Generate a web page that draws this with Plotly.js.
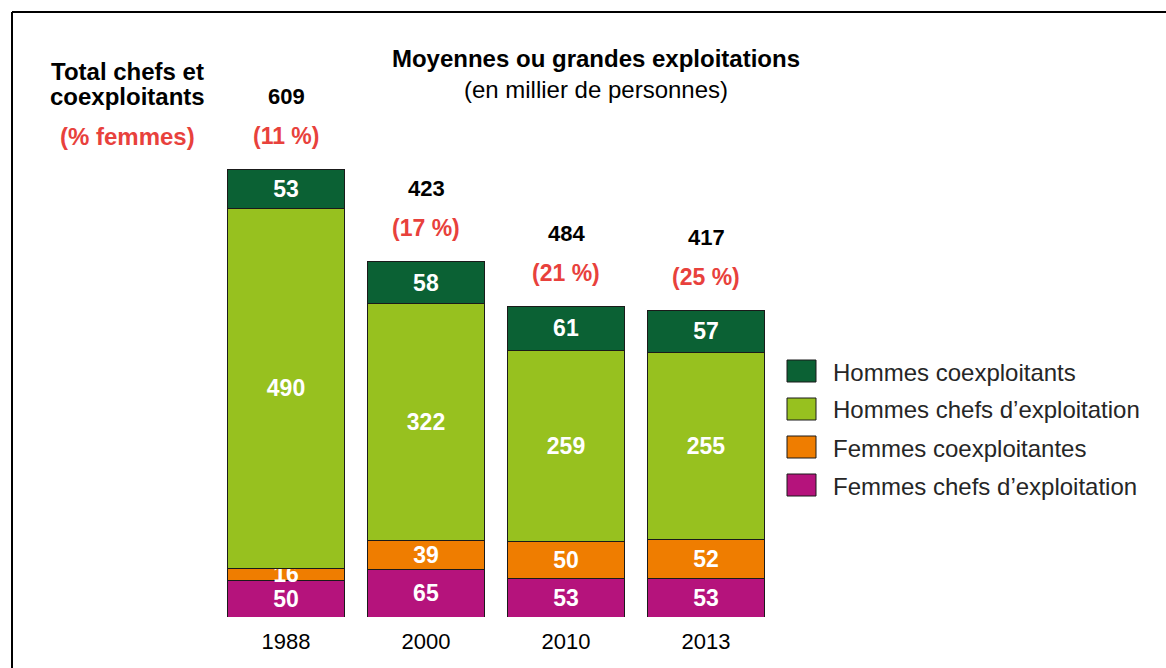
<!DOCTYPE html>
<html>
<head>
<meta charset="utf-8">
<script src="https://cdn.plot.ly/plotly-3.0.1.min.js"></script>
<style>html,body{margin:0;padding:0;background:#fff;}#chart{width:1166px;height:668px;}</style>
</head>
<body>
<div id="chart"></div>
<script>
// ---- data ----
const years = ["1988", "2000", "2010", "2013"];
const femmesChefs = [50, 65, 53, 53];
const femmesCoexploitantes = [16, 39, 50, 52];
const hommesChefs = [490, 322, 259, 255];
const hommesCoexploitants = [53, 58, 61, 57];
const totalLabels = ["609", "423", "484", "417"];
const pctFemmes = ["(11 %)", "(17 %)", "(21 %)", "(25 %)"];

const seriesNames = ["Femmes chefs d’exploitation", "Femmes coexploitantes", "Hommes chefs d’exploitation", "Hommes coexploitants"];
const seriesValues = [femmesChefs, femmesCoexploitantes, hommesChefs, hommesCoexploitants];
const seriesColors = ["#b5137c", "#ef7d00", "#97c11f", "#0b6134"];

const FONT = "Liberation Sans, Arial, sans-serif";
const RED = "#e8413c";
const OUTLINE = "#1a1a1a";

const traces = seriesNames.map((name, i) => ({
  type: "bar",
  name: name,
  x: years.map((_, j) => j),
  y: seriesValues[i],
  marker: {color: seriesColors[i], line: {color: OUTLINE, width: 1}},
  text: seriesValues[i].map(String),
  textposition: "inside",
  insidetextanchor: "middle",
  constraintext: "none",
  textangle: 0,
  textfont: {family: FONT, size: 23, color: "#ffffff", weight: "bold"},
  width: 0.83,
  showlegend: false,
  hoverinfo: "skip"
}));

// stack tops for annotation placement
const tops = years.map((_, j) => seriesValues.reduce((s, arr) => s + arr[j], 0));

// pixel geometry helpers (layout)
const W = 1166, H = 668;
const mL = 216, mR = 390, mT = 20, mB = 51;
const plotW = W - mL - mR, plotH = H - mT - mB;
const px2paperX = px => (px - mL) / plotW;
const py2paperY = py => (H - mB - py) / plotH;
const unitPx = 0.7351;
const yMax = plotH / unitPx;

const annotations = [];
years.forEach((yr, j) => {
  annotations.push({x: j, y: tops[j] + 45, xref: "x", yref: "y", text: "<b>" + pctFemmes[j] + "</b>",
    showarrow: false, font: {family: FONT, size: 23, color: RED}, xanchor: "center", yanchor: "middle"});
  annotations.push({x: j, y: tops[j] + 99, xref: "x", yref: "y", text: "<b>" + totalLabels[j] + "</b>",
    showarrow: false, font: {family: FONT, size: 22, color: "#000"}, xanchor: "center", yanchor: "middle"});
});
const leftLines = [["Total chefs et", 72, "#000"], ["coexploitants", 97, "#000"], ["(% femmes)", 137, RED]];
leftLines.forEach(([t, py, c]) => {
  annotations.push({x: px2paperX(127), y: py2paperY(py), xref: "paper", yref: "paper",
    text: "<b>" + t + "</b>", showarrow: false, align: "center",
    font: {family: FONT, size: 24, color: c}, xanchor: "center", yanchor: "middle"});
});

// custom legend (top item = top of stack)
const shapes = [];
const legendOrder = [3, 2, 1, 0];
legendOrder.forEach((si, k) => {
  const cy = 371 + k * 38;
  shapes.push({type: "rect", xref: "paper", yref: "paper",
    x0: px2paperX(787), x1: px2paperX(816), y0: py2paperY(cy - 11), y1: py2paperY(cy + 11),
    fillcolor: seriesColors[si], line: {color: OUTLINE, width: 1}});
  annotations.push({x: px2paperX(831), y: py2paperY(cy + 1), xref: "paper", yref: "paper",
    text: seriesNames[si], showarrow: false, align: "left",
    font: {family: FONT, size: 24, color: "#262626"}, xanchor: "left", yanchor: "middle"});
});

// frame
shapes.push({type: "line", xref: "paper", yref: "paper", x0: px2paperX(12), x1: px2paperX(1170), y0: py2paperY(12), y1: py2paperY(12), line: {color: "#000", width: 2}});
shapes.push({type: "line", xref: "paper", yref: "paper", x0: px2paperX(12), x1: px2paperX(12), y0: py2paperY(12), y1: py2paperY(672), line: {color: "#000", width: 2}});

const layout = {
  width: W, height: H,
  margin: {l: mL, r: mR, t: mT, b: mB, pad: 0},
  paper_bgcolor: "#fff", plot_bgcolor: "#fff",
  barmode: "stack",
  showlegend: false,
  title: {
    text: "<b>Moyennes ou grandes exploitations</b><br>(en millier de personnes)",
    font: {family: FONT, size: 24, color: "#000"},
    x: px2paperX(596), xref: "paper", xanchor: "center",
    y: 1 - 67 / H, yref: "container", yanchor: "top"
  },
  xaxis: {
    type: "linear", range: [-0.5, 3.5], showgrid: false, zeroline: false, showline: false,
    ticks: "", ticklabelstandoff: 9,
    tickmode: "array", tickvals: years.map((_, j) => j), ticktext: years,
    tickfont: {family: FONT, size: 22, color: "#000"}, fixedrange: true
  },
  yaxis: {range: [0, yMax], visible: false, fixedrange: true},
  annotations: annotations,
  shapes: shapes
};

Plotly.newPlot("chart", traces, layout, {displayModeBar: false, staticPlot: true});
</script>
</body>
</html>
